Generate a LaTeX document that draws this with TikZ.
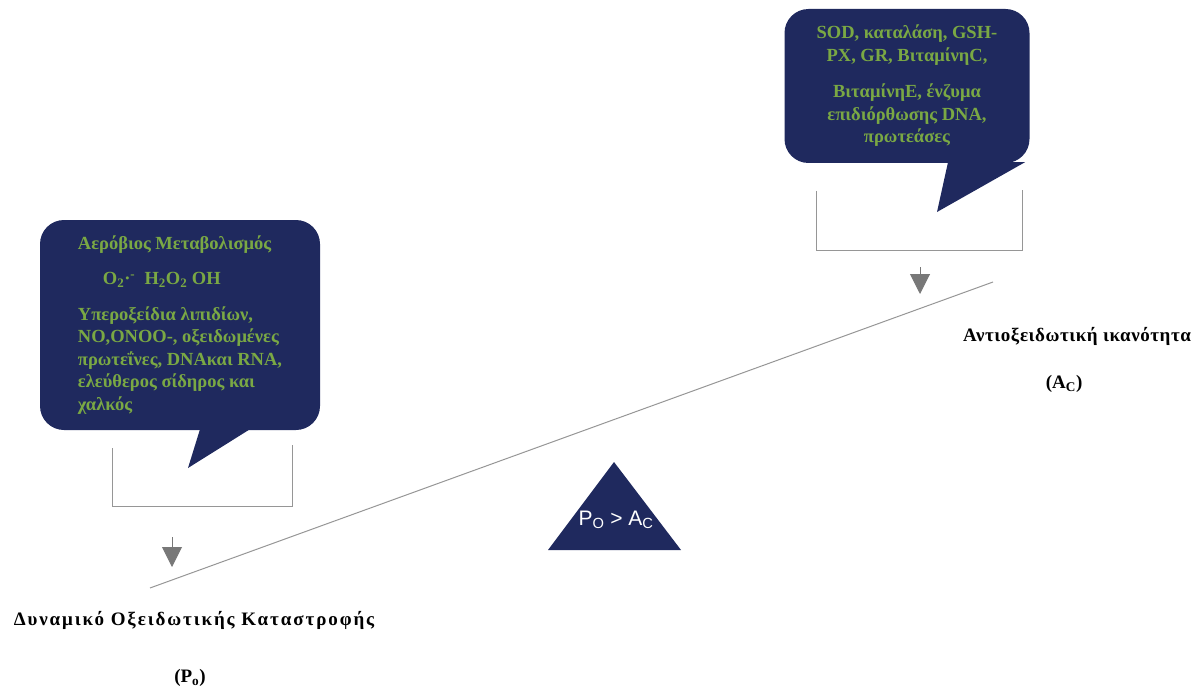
\documentclass[tikz,border=0pt]{standalone}
\usepackage{fontspec}
\setmainfont{Liberation Serif}
\setsansfont{Liberation Sans}
\newfontfamily\spaced[LetterSpace=10]{Liberation Serif}
\newfontfamily\slightlyspaced[LetterSpace=3]{Liberation Serif}
\usetikzlibrary{positioning,arrows.meta}

\definecolor{navy}{RGB}{31,41,94}
\definecolor{leaf}{RGB}{122,168,68}
\definecolor{rulegray}{RGB}{150,150,150}

\tikzset{
	bubble/.style={draw=none, fill=navy, rounded corners=24pt, text=leaf,
		font=\fontsize{18.5}{22.5}\selectfont\bfseries, inner sep=0pt},
	bracket/.style={draw=rulegray, line width=0.9pt},
	drop/.style={draw=rulegray!80!black, line width=1pt, -{Triangle[width=20pt,length=20pt]}},
	beam/.style={draw=rulegray, line width=1pt},
	caption/.style={font=\fontsize{19}{23}\selectfont\bfseries, inner sep=2pt},
}

\begin{document}
\begin{tikzpicture}[x=1pt,y=-1pt]
	\useasboundingbox (0,0) rectangle (1192,698);

	% left bubble: oxidants
	\node[bubble, minimum width=280pt, minimum height=210pt, align=left] (oxid) at (180,325) {%
		Αερόβιος Μεταβολισμός\\[13pt]
		\hspace*{25pt}O\textsubscript{2}·\textsuperscript{-}\ \ H\textsubscript{2}O\textsubscript{2} OH\\[13pt]
		Υπεροξείδια λιπιδίων,\\ NO,ONOO-, οξειδωμένες\\ πρωτεΐνες, DNAκαι RNA,\\ ελεύθερος σίδηρος και\\ χαλκός};
	\fill[navy] ([xshift=20pt,yshift=1pt]oxid.south) -- (188,468) -- ([xshift=70pt,yshift=1pt]oxid.south) -- cycle;

	% right bubble: antioxidants
	\node[bubble, minimum width=245pt, minimum height=154pt, align=center] (antiox) at (907,86) {%
		SOD, καταλάση, GSH-\\ PX, GR, ΒιταμίνηC,\\[14pt]
		ΒιταμίνηE, ένζυμα\\ επιδιόρθωσης DNA,\\ πρωτεάσες};
	\fill[navy] ([xshift=41pt,yshift=1pt]antiox.south) -- (937,212) -- ([xshift=118pt,yshift=1pt]antiox.south) -- cycle;

	% brackets under the bubbles
	\draw[bracket] (112,448) |- (292,506) -- (292,445);
	\draw[bracket] (816,191) |- (1022,250) -- (1022,190);

	% drop arrows
	\coordinate (oxtop) at (172,537);
	\coordinate (oxtip) at (172,567);
	\coordinate (antop) at (920,267);
	\coordinate (antip) at (920,294);
	\draw[drop] (oxtop) -- (oxtip);
	\draw[drop] (antop) -- (antip);

	% the beam and the fulcrum
	\coordinate (beamleft) at (150,588);
	\coordinate (beamright) at (993,282);
	\draw[beam] (beamleft) -- (beamright);
	\coordinate (fulleft) at (548,550);
	\coordinate (fultop) at (614,462);
	\coordinate (fulright) at (681,550);
	\fill[navy] (fulleft) -- (fultop) -- (fulright) -- cycle;
	\node[text=white, font=\sffamily\fontsize{21}{24}\selectfont] (balance) at (616,520) {P\textsubscript{O} > A\textsubscript{C}};

	% captions
	\node[caption, font=\spaced\fontsize{19}{23}\selectfont\bfseries] (potential) at (194,620) {Δυναμικό Οξειδωτικής Καταστροφής};
	\node[caption, below=36pt of potential, xshift=-4pt] (po) {(P\textsubscript{o})};
	\node[caption, font=\slightlyspaced\fontsize{19}{23}\selectfont\bfseries, anchor=west] (capacity) at (961,336) {Αντιοξειδωτική ικανότητα};
	\node[caption, below=26pt of capacity, xshift=-13pt] (ac) {(A\textsubscript{C})};
\end{tikzpicture}
\end{document}
